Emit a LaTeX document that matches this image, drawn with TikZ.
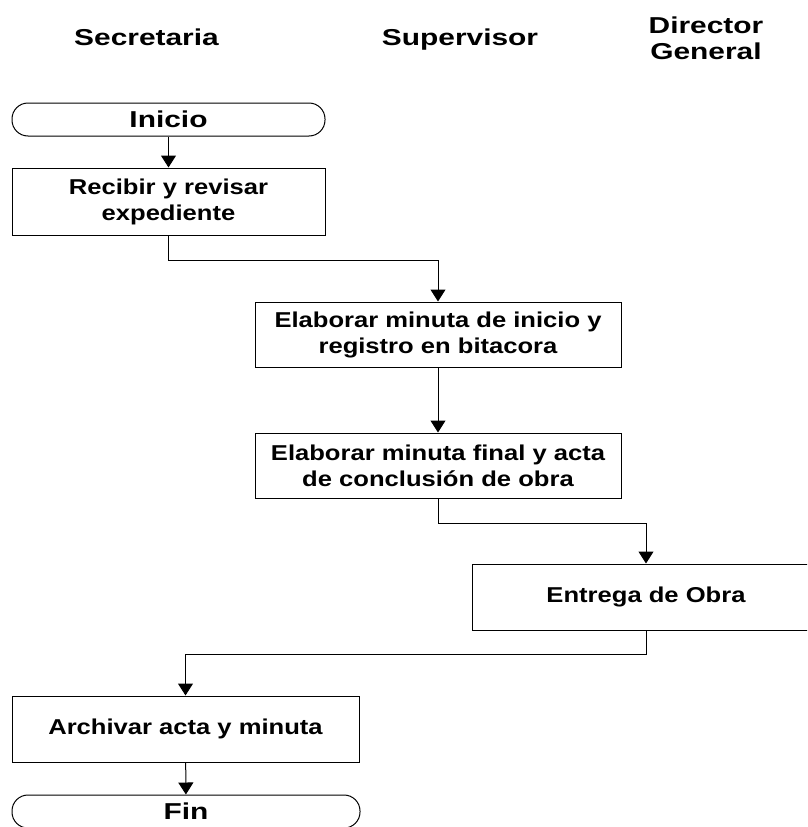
\documentclass[tikz,border=0pt]{standalone}
\usepackage{fontspec}
\setmainfont{Liberation Sans}[FakeStretch=1.19]
\newfontfamily\headfont{Liberation Sans}[FakeStretch=1.3]
\usetikzlibrary{arrows.meta}

\tikzset{
  caja/.style={draw, line width=1pt, inner sep=0pt, align=center,
    font=\fontsize{21.5}{26}\selectfont\bfseries},
  terminal/.style={draw, line width=1pt, inner sep=0pt, rounded corners=16pt,
    minimum height=33pt, font=\headfont\fontsize{23}{26}\selectfont\bfseries},
  titulo/.style={align=center, font=\headfont\fontsize{23}{26}\selectfont\bfseries},
  flecha/.style={line width=1pt, -{Triangle[width=15pt,length=12pt]}}
}

\begin{document}
\begin{tikzpicture}[x=1pt,y=-1pt]
    \useasboundingbox (0,0) rectangle (807,827);
    \clip (0,0) rectangle (807,827);

    \node[titulo, anchor=base] (sec) at (146.5,45) {Secretaria};
    \node[titulo, anchor=base] (sup) at (460,45) {Supervisor};
    \node[titulo] (dir) at (706,38) {Director\\General};

    \node[terminal, minimum width=313pt] (inicio) at (168.5,119.5) {Inicio};
    \node[caja, minimum width=313pt, minimum height=67pt] (recibir) at (168.5,201.5) {Recibir y revisar\\expediente};
    \node[caja, minimum width=366pt, minimum height=65pt] (minini) at (438,334.5) {Elaborar minuta de inicio y\\registro en bitacora};
    \node[caja, minimum width=366pt, minimum height=65pt] (minfin) at (438,465.5) {Elaborar minuta final y acta\\de conclusión de obra};
    \node[caja, minimum width=348pt, minimum height=66pt] (entrega) at (646,597) {Entrega de Obra};
    \node[caja, minimum width=347pt, minimum height=66pt] (archivar) at (185.5,729) {Archivar acta y minuta};
    \node[terminal, minimum width=348pt] (fin) at (186,811.5) {Fin};

    \draw[flecha] (inicio) -- (recibir);
    \draw[flecha] (recibir.south) -- ++(0,25) -| (minini.north);
    \draw[flecha] (minini) -- (minfin);
    \draw[flecha] (minfin.south) -- ++(0,25) -| (entrega.north);
    \draw[flecha] (entrega.south) -- ++(0,24) -| (archivar.north);
    \draw[flecha] (archivar) -- (fin);

  \end{tikzpicture}
\end{document}
